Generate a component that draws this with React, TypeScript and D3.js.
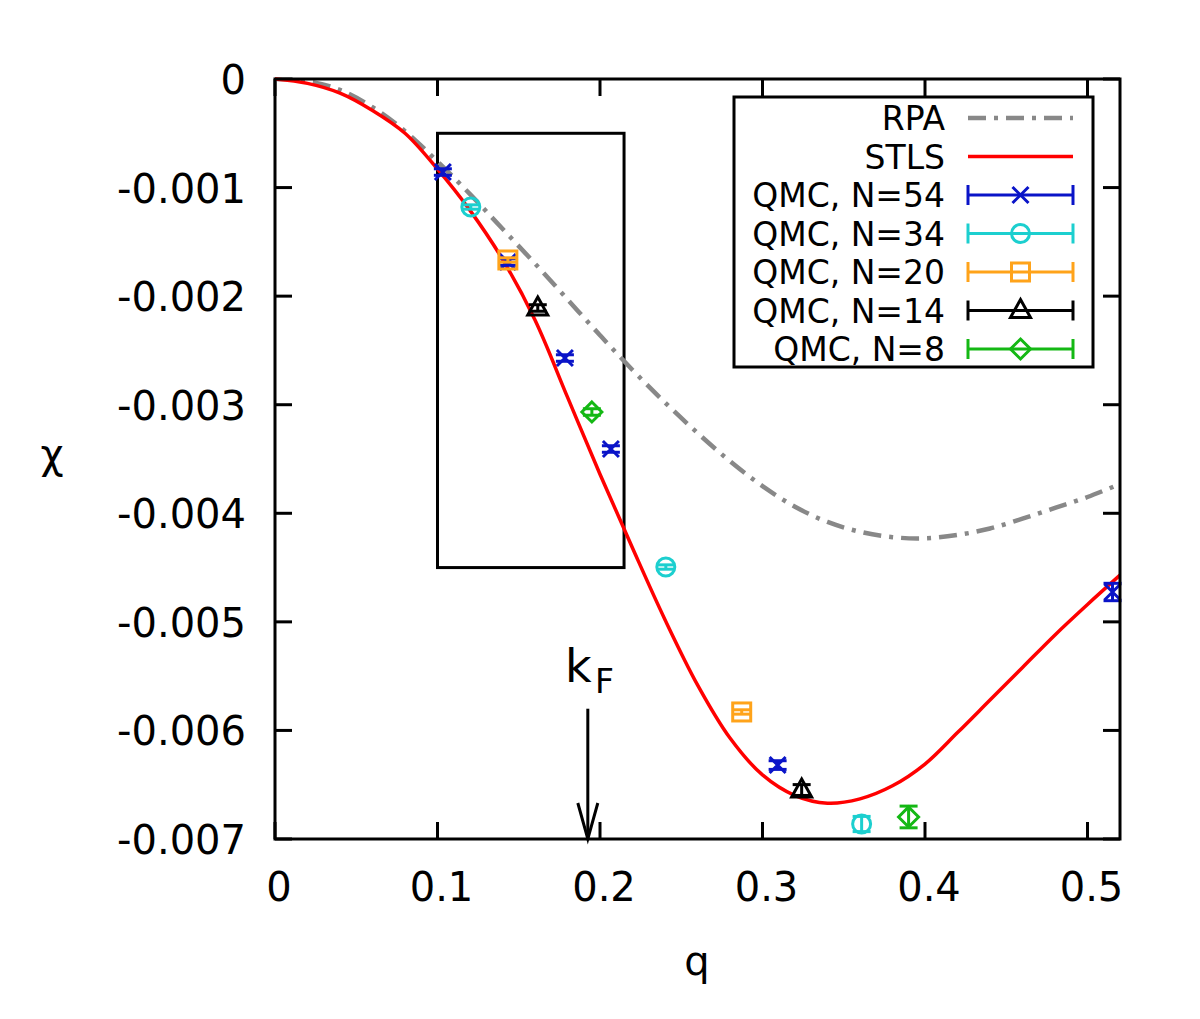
import * as d3 from "d3";

// RPA curve
const rpaQ = [0, 0.02, 0.04, 0.06, 0.08, 0.1, 0.12, 0.14, 0.16, 0.18, 0.2, 0.22, 0.24, 0.26, 0.28, 0.3, 0.32, 0.34, 0.36, 0.38, 0.4, 0.42, 0.44, 0.46, 0.48, 0.5, 0.52];
const rpaChi = [0, -0.00002, -0.0001, -0.00026, -0.00048, -0.00076, -0.00106, -0.00138, -0.0017, -0.00203, -0.00236, -0.00268, -0.00298, -0.00326, -0.00352, -0.00375, -0.00394, -0.00408, -0.00417, -0.00422, -0.00423, -0.0042, -0.00414, -0.00405, -0.00395, -0.00385, -0.00373];

// STLS curve
const stlsQ = [0, 0.02, 0.04, 0.06, 0.08, 0.1, 0.12, 0.14, 0.16, 0.18, 0.2, 0.22, 0.24, 0.26, 0.28, 0.3, 0.32, 0.34, 0.36, 0.38, 0.4, 0.42, 0.44, 0.46, 0.48, 0.5, 0.52];
const stlsChi = [0, -0.00004, -0.00013, -0.00029, -0.0005, -0.00083, -0.00121, -0.00166, -0.00222, -0.00293, -0.00364, -0.00432, -0.00498, -0.00558, -0.00607, -0.00641, -0.0066, -0.00667, -0.00663, -0.00651, -0.00631, -0.00602, -0.00572, -0.00542, -0.00512, -0.00484, -0.00457];

// QMC points
const qmc54Q = [0.1033, 0.1433, 0.1784, 0.2067, 0.3093, 0.5154];
const qmc54Chi = [-0.000857, -0.001686, -0.00257, -0.003408, -0.006319, -0.004725];
const qmc54Err = [0.00003, 0.00003, 0.00003, 0.00003, 0.00004, 0.00008];

const qmc34Q = [0.1205, 0.2405, 0.361];
const qmc34Chi = [-0.001179, -0.004495, -0.006862];
const qmc34Err = [0.00002, 0.00002, 0.00007];

const qmc20Q = [0.1433, 0.2872];
const qmc20Chi = [-0.001667, -0.00583];
const qmc20Err = [0.00002, 0.00002];

const qmc14Q = [0.1617, 0.3241];
const qmc14Chi = [-0.002109, -0.006549];
const qmc14Err = [0.00003, 0.00005];

const qmc8Q = [0.195, 0.3899];
const qmc8Chi = [-0.003067, -0.006797];
const qmc8Err = [0.00003, 0.0001];

const qTicks = [0, 0.1, 0.2, 0.3, 0.4, 0.5];
const qTickLabels = ["0", "0.1", "0.2", "0.3", "0.4", "0.5"];
const chiTicks = [0, -0.001, -0.002, -0.003, -0.004, -0.005, -0.006, -0.007];
const chiTickLabels = ["0", "-0.001", "-0.002", "-0.003", "-0.004", "-0.005", "-0.006", "-0.007"];

// inset box and k_F marker (data coords)
const insetQ = [0.1, 0.2148];
const insetChi = [-0.0045, -0.0005];
const kF = 0.1925;
const kFArrowTop = -0.0058;

type Shape = "x" | "circle" | "square" | "triangle" | "diamond";

const qmcSeries: { label: string; color: string; shape: Shape; q: number[]; chi: number[]; err: number[] }[] = [
  { label: "QMC, N=54", color: "#0a14c8", shape: "x", q: qmc54Q, chi: qmc54Chi, err: qmc54Err },
  { label: "QMC, N=34", color: "#1ccfcf", shape: "circle", q: qmc34Q, chi: qmc34Chi, err: qmc34Err },
  { label: "QMC, N=20", color: "#ffa31a", shape: "square", q: qmc20Q, chi: qmc20Chi, err: qmc20Err },
  { label: "QMC, N=14", color: "#000000", shape: "triangle", q: qmc14Q, chi: qmc14Chi, err: qmc14Err },
  { label: "QMC, N=8", color: "#14b814", shape: "diamond", q: qmc8Q, chi: qmc8Chi, err: qmc8Err },
];

const W = 1200;
const H = 1019;
const margin = { left: 275, right: 80, top: 79, bottom: 180 };
const font = "'DejaVu Sans', sans-serif";

const Marker = ({ cx, cy, shape, color }: { cx: number; cy: number; shape: Shape; color: string }) => {
  const sw = 3;
  if (shape === "x") {
    const s = 8;
    return <path d={`M${cx - s},${cy - s}L${cx + s},${cy + s}M${cx - s},${cy + s}L${cx + s},${cy - s}`} stroke={color} strokeWidth={sw} fill="none" />;
  }
  if (shape === "circle") return <circle cx={cx} cy={cy} r={9} stroke={color} strokeWidth={sw} fill="none" />;
  if (shape === "square") return <rect x={cx - 9} y={cy - 9} width={18} height={18} stroke={color} strokeWidth={sw} fill="none" />;
  if (shape === "triangle")
    return <path d={`M${cx},${cy - 11}L${cx + 10},${cy + 7}L${cx - 10},${cy + 7}Z`} stroke={color} strokeWidth={sw} fill="none" />;
  return <path d={`M${cx},${cy - 10}L${cx + 10},${cy}L${cx},${cy + 10}L${cx - 10},${cy}Z`} stroke={color} strokeWidth={sw} fill="none" />;
};

const App = () => {
  const x = d3.scaleLinear().domain([0, 0.52]).range([margin.left, W - margin.right]);
  const y = d3.scaleLinear().domain([-0.007, 0]).range([H - margin.bottom, margin.top]);

  const x0 = x(0);
  const x1 = x(0.52);
  const y0 = y(-0.007);
  const y1 = y(0);
  const tickLen = 17;

  const lineGen = d3
    .line<[number, number]>()
    .x(d => x(d[0]))
    .y(d => y(d[1]))
    .curve(d3.curveCatmullRom.alpha(0.5));

  const rpaPath = lineGen(rpaQ.map((q, i) => [q, rpaChi[i]] as [number, number])) || "";
  const stlsPath = lineGen(stlsQ.map((q, i) => [q, stlsChi[i]] as [number, number])) || "";

  // legend layout
  const legX = 734;
  const legY = 97;
  const legW = 359;
  const legH = 270;
  const rowY = (i: number) => 118 + i * 38.5;
  const textRight = 945;
  const sampleX0 = 968;
  const sampleX1 = 1073;

  return (
    <svg width={W} height={H} style={{ position: "absolute", left: 0, top: 0, background: "#fff" }} fontFamily={font}>
      <defs>
        <clipPath id="plot">
          <rect x={x0} y={y1 - 2} width={x1 - x0} height={y0 - y1 + 2} />
        </clipPath>
      </defs>

      {/* ticks on all four sides */}
      {qTicks.map((t, i) => (
        <g key={"xt" + i}>
          <line x1={x(t)} x2={x(t)} y1={y0} y2={y0 - tickLen} stroke="#000" strokeWidth={3} />
          <line x1={x(t)} x2={x(t)} y1={y1} y2={y1 + tickLen} stroke="#000" strokeWidth={3} />
          <text x={x(t) + 4} y={901} fontSize={40} textAnchor="middle" fill="#000">
            {qTickLabels[i]}
          </text>
        </g>
      ))}
      {chiTicks.map((t, i) => (
        <g key={"yt" + i}>
          <line x1={x0} x2={x0 + tickLen} y1={y(t)} y2={y(t)} stroke="#000" strokeWidth={3} />
          <line x1={x1} x2={x1 - tickLen} y1={y(t)} y2={y(t)} stroke="#000" strokeWidth={3} />
          <text x={246} y={y(t) + 15} fontSize={40} textAnchor="end" fill="#000">
            {chiTickLabels[i]}
          </text>
        </g>
      ))}

      {/* inset box */}
      <rect
        x={x(insetQ[0])}
        y={y(insetChi[1])}
        width={x(insetQ[1]) - x(insetQ[0])}
        height={y(insetChi[0]) - y(insetChi[1])}
        fill="none"
        stroke="#000"
        strokeWidth={3}
      />

      {/* k_F arrow */}
      <line x1={x(kF)} x2={x(kF)} y1={y(kFArrowTop)} y2={y0} stroke="#000" strokeWidth={3} />
      <path d={`M${x(kF) - 10},${y0 - 36}L${x(kF)},${y0}L${x(kF) + 10},${y0 - 36}`} fill="none" stroke="#000" strokeWidth={3} />
      <text x={565} y={682} fontSize={46} fill="#000">
        k
      </text>
      <text x={595} y={693} fontSize={33} fill="#000">
        F
      </text>

      <g clipPath="url(#plot)">
        <path d={rpaPath} fill="none" stroke="#888888" strokeWidth={4.5} strokeDasharray="18,8,4,8" />
        <path d={stlsPath} fill="none" stroke="#ff0000" strokeWidth={3.5} />
      </g>

      {qmcSeries.map(s => (
        <g key={s.label}>
          {s.q.map((q, i) => {
            const cx = x(q);
            const cy = y(s.chi[i]);
            const ylo = y(s.chi[i] - s.err[i]);
            const yhi = y(s.chi[i] + s.err[i]);
            return (
              <g key={i}>
                <line x1={cx} x2={cx} y1={ylo} y2={yhi} stroke={s.color} strokeWidth={3} />
                <line x1={cx - 9} x2={cx + 9} y1={ylo} y2={ylo} stroke={s.color} strokeWidth={3} />
                <line x1={cx - 9} x2={cx + 9} y1={yhi} y2={yhi} stroke={s.color} strokeWidth={3} />
                <Marker cx={cx} cy={cy} shape={s.shape} color={s.color} />
              </g>
            );
          })}
        </g>
      ))}

      {/* frame */}
      <rect x={x0} y={y1} width={x1 - x0} height={y0 - y1} fill="none" stroke="#000" strokeWidth={3} />

      {/* legend */}
      <rect x={legX} y={legY} width={legW} height={legH} fill="#fff" stroke="#000" strokeWidth={3} />
      <text x={textRight} y={rowY(0) + 12} fontSize={33} textAnchor="end" fill="#000">
        RPA
      </text>
      <line x1={sampleX0} x2={sampleX1} y1={rowY(0)} y2={rowY(0)} stroke="#888888" strokeWidth={4.5} strokeDasharray="18,8,4,8" />
      <text x={textRight} y={rowY(1) + 12} fontSize={33} textAnchor="end" fill="#000">
        STLS
      </text>
      <line x1={sampleX0} x2={sampleX1} y1={rowY(1)} y2={rowY(1)} stroke="#ff0000" strokeWidth={3.5} />
      {qmcSeries.map((s, i) => {
        const ry = rowY(i + 2);
        return (
          <g key={"leg" + s.label}>
            <text x={textRight} y={ry + 12} fontSize={33} textAnchor="end" fill="#000">
              {s.label}
            </text>
            <line x1={sampleX0} x2={sampleX1} y1={ry} y2={ry} stroke={s.color} strokeWidth={3} />
            <line x1={sampleX0} x2={sampleX0} y1={ry - 10} y2={ry + 10} stroke={s.color} strokeWidth={3} />
            <line x1={sampleX1} x2={sampleX1} y1={ry - 10} y2={ry + 10} stroke={s.color} strokeWidth={3} />
            <Marker cx={(sampleX0 + sampleX1) / 2} cy={ry} shape={s.shape} color={s.color} />
          </g>
        );
      })}

      {/* axis titles */}
      <text x={52} y={468} fontSize={40} textAnchor="middle" fill="#000">
        χ
      </text>
      <text x={697} y={975} fontSize={40} textAnchor="middle" fill="#000">
        q
      </text>
    </svg>
  );
};

export default App;
